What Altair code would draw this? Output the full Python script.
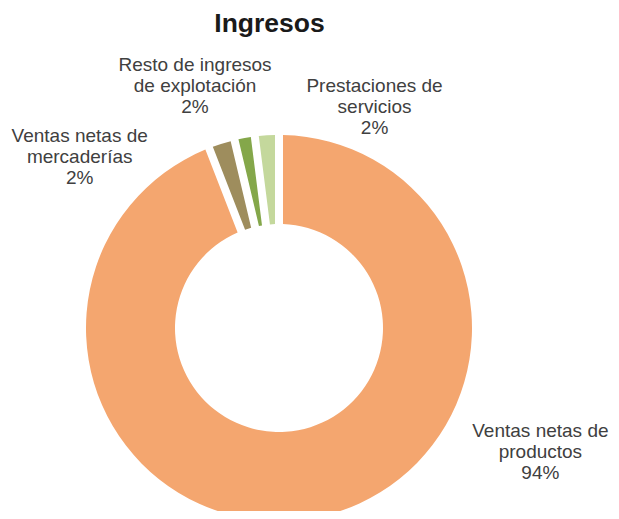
import math
import altair as alt
import pandas as pd

# ---- data ----
categories = [
    "Ventas netas de productos",
    "Ventas netas de mercaderías",
    "Resto de ingresos de explotación",
    "Prestaciones de servicios",
]
values = [94.1, 2.2, 1.7, 2.0]
label_names = [
    "Ventas netas de\nproductos",
    "Ventas netas de\nmercaderías",
    "Resto de ingresos\nde explotación",
    "Prestaciones de\nservicios",
]

# ---- styling / layout ----
colors = ["#F4A66F", "#9E8D5D", "#84A74A", "#C4D89C"]
CX, CY = 271, 280            # donut centre inside the view
R_IN, R_OUT = 104, 193
LABEL_R = 230
label_offsets = {            # (dx, dy) fine placement of each label block
    categories[0]: (219, -117),
    categories[1]: (-131, 34),
    categories[2]: (-43, -31),
    categories[3]: (110, -6),
}

TOTAL = sum(values)
df = pd.DataFrame({
    "cat": categories,
    "value": values,
    "order": list(range(len(categories))),
    "label": [f"{n}\n{round(v / TOTAL * 100):.0f}%" for n, v in zip(label_names, values)],
})

theta_scale = alt.Scale(domain=[0, TOTAL], range=[0, 2 * math.pi])

base = (
    alt.Chart(df)
    .transform_window(v1="sum(value)", sort=[alt.SortField("order")], frame=[None, 0])
    .transform_calculate(v0="datum.v1 - datum.value", mid="datum.v1 - datum.value / 2")
)

arcs = base.mark_arc(innerRadius=R_IN, outerRadius=R_OUT, padAngle=0.0365).encode(
    theta=alt.Theta("v0:Q", scale=theta_scale),
    theta2="v1:Q",
    color=alt.Color("cat:N", scale=alt.Scale(domain=categories, range=colors), legend=None),
    x=alt.value(CX),
    y=alt.value(CY),
)

layers = [arcs]
for cat in categories:
    dx, dy = label_offsets[cat]
    layers.append(
        base.transform_filter(alt.datum.cat == cat)
        .mark_text(
            radius=LABEL_R, dx=dx, dy=dy, align="center", baseline="alphabetic",
            lineBreak="\n", lineHeight=21, fontSize=19, font="Liberation Sans",
            color="#404040",
        )
        .encode(
            theta=alt.Theta("mid:Q", scale=theta_scale),
            text="label:N",
            x=alt.value(CX),
            y=alt.value(CY),
        )
    )

chart = (
    alt.layer(*layers)
    .properties(
        width=603,
        height=463,
        autosize=alt.AutoSizeParams(type="none"),
        padding={"left": 0, "right": 0, "top": 40, "bottom": 0},
        title=alt.TitleParams(
            text="Ingresos", fontSize=26.5, fontWeight="bold", font="Liberation Sans",
            color="#1a1a1a", anchor="middle", frame="group", baseline="alphabetic",
            offset=17, dx=-40, dy=27,
        ),
    )
    .configure_view(stroke=None)
)

chart.save("out.html", embed_options={"renderer": "svg", "actions": False})
